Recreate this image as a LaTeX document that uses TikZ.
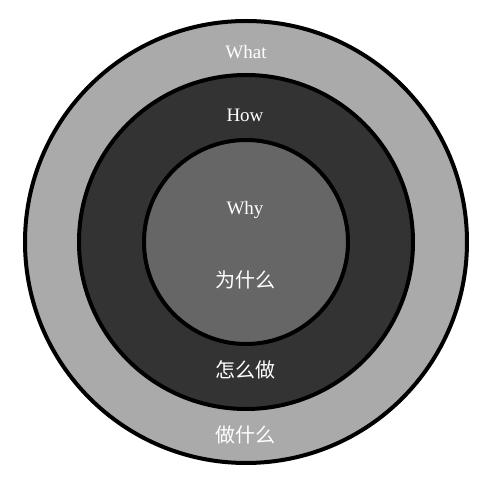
\documentclass[tikz,border=0pt]{standalone}
\usepackage{fontspec}
\setmainfont{Liberation Serif}
\newfontfamily\cjk{Noto Sans CJK SC}
\begin{document}
\begin{tikzpicture}[x=1pt,y=1pt,
  ring/.style={circle, draw=black, line width=4pt, inner sep=0pt},
  lat/.style={text=white, font=\fontsize{19}{22}\selectfont},
  han/.style={text=white, font=\cjk\fontsize{20}{24}\selectfont}]
\useasboundingbox (0,0) rectangle (499,490);
\coordinate (c) at (246,248);
\node[ring, fill={rgb,255:red,170;green,170;blue,170}, minimum size=442pt] (outer) at (c) {};
\node[ring, fill={rgb,255:red,51;green,51;blue,51}, minimum size=334pt] (middle) at (c) {};
\node[ring, fill={rgb,255:red,102;green,102;blue,102}, minimum size=204pt] (inner) at (c) {};
\node[lat] (what) at (246,438) {What};
\node[lat] (how) at (245,375) {How};
\node[lat] (why) at (245,280) {Why};
\node[han] (weishenme) at (245,210) {为什么};
\node[han] (zenmezuo) at (245,120) {怎么做};
\node[han] (zuoshenme) at (245,55) {做什么};
\end{tikzpicture}
\end{document}
